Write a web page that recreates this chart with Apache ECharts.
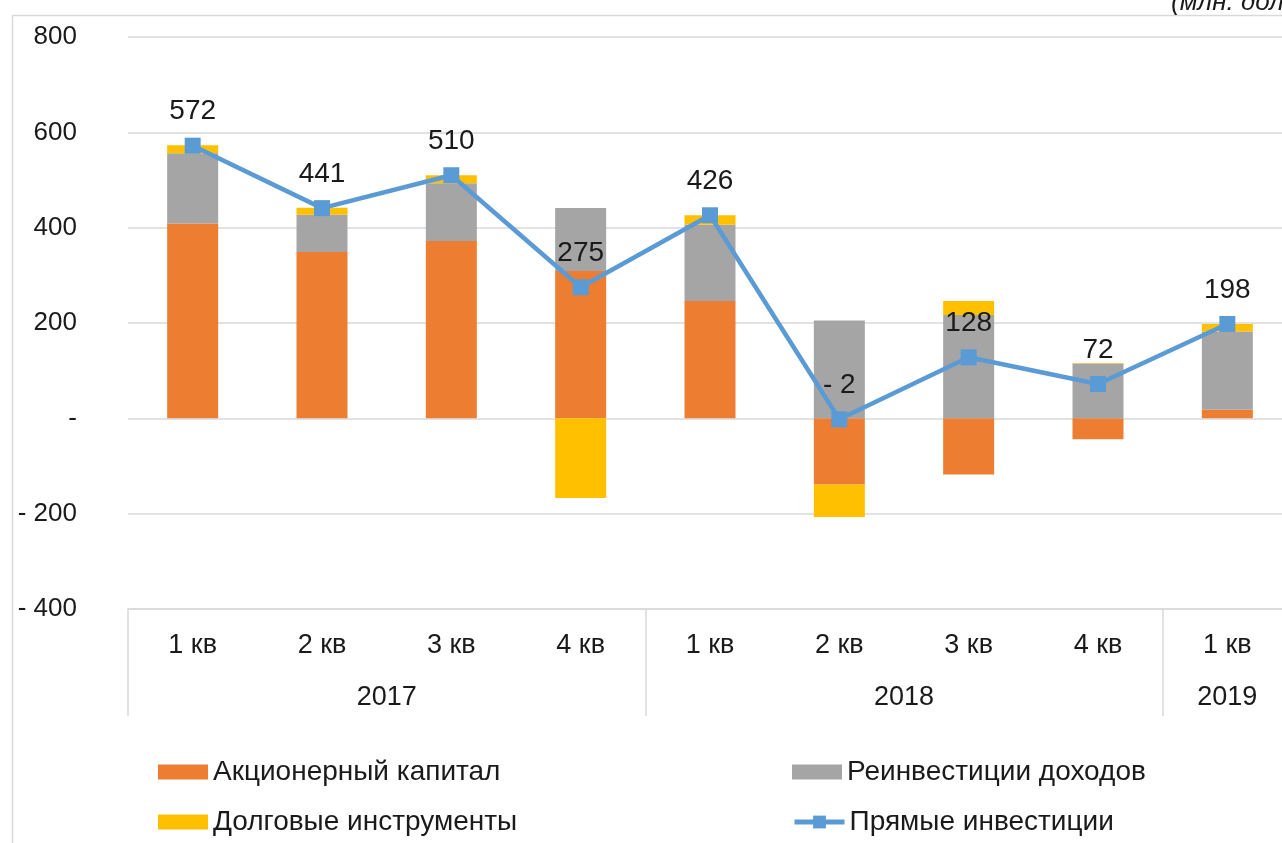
<!DOCTYPE html>
<html>
<head>
<meta charset="utf-8">
<script src="https://cdn.jsdelivr.net/npm/echarts@6/dist/echarts.min.js"></script>
<style>
  html, body { margin: 0; padding: 0; background: #fff; }
  #chart { width: 1282px; height: 843px; }
</style>
</head>
<body>
<div id="chart"></div>
<script>
// ---- data ----
var quarters = ['1 кв', '2 кв', '3 кв', '4 кв', '1 кв', '2 кв', '3 кв', '4 кв', '1 кв'];
var years = ['2017', '2018', '2019'];
var yearSpans = [4, 4, 1];
var equity = [409, 349, 372, 309, 246, -139, -118, -44, 18];      // Акционерный капитал
var reinvest = [147, 78, 121, 132, 160, 205, 217, 115, 164];      // Реинвестиции доходов
var debt = [17, 15, 17, -167, 20, -68, 29, 1, 16];                // Долговые инструменты
var direct = [572, 441, 510, 275, 426, -2, 128, 72, 198];         // Прямые инвестиции
var seriesNames = ['Акционерный капитал', 'Реинвестиции доходов', 'Долговые инструменты', 'Прямые инвестиции'];
var unitText = '(млн. долл. США)';

// ---- helpers ----
function acct(v) {
  if (v === 0) return '-';
  if (v < 0) return '- ' + Math.abs(v);
  return String(v);
}
var yearCenters = {};
(function () {
  var start = 0;
  for (var i = 0; i < years.length; i++) {
    yearCenters[String(start + yearSpans[i] / 2)] = years[i];
    start += yearSpans[i];
  }
})();
var total = yearSpans.reduce(function (a, b) { return a + b; }, 0);

var FONT = '"Liberation Sans", Arial, sans-serif';
var TXT = '#1a1a1a';
var GRID = '#d9d9d9';

function legendAt(name, left, top, isLine) {
  var l = {
    data: [isLine ? name : { name: name, icon: 'rect' }],
    left: left, top: top, orient: 'horizontal', padding: 0,
    itemWidth: 50, itemHeight: 15, itemGap: 0,
    textStyle: { fontFamily: FONT, fontSize: 28, color: TXT },
    selectedMode: false
  };
  if (isLine) { l.lineStyle = { width: 5 }; l.itemHeight = 16; }
  return l;
}

var chart = echarts.init(document.getElementById('chart'), null, { renderer: 'canvas' });
chart.setOption({
  animation: false,
  backgroundColor: '#fff',
  title: {
    text: unitText, left: 1166, top: -15,
    textStyle: { fontFamily: FONT, fontSize: 26, fontStyle: 'italic', fontWeight: 'normal', color: TXT }
  },
  graphic: [{
    type: 'rect', left: 10, top: 13, silent: true, z: -1,
    shape: { width: 1400, height: 1000 },
    style: { fill: 'none', stroke: GRID, lineWidth: 1.5 }
  }],
  grid: { left: 128, top: 37, width: 1164, height: 572, containLabel: false, outerBoundsMode: 'none' },
  legend: [
    legendAt(seriesNames[0], 158, 758),
    legendAt(seriesNames[1], 792, 758),
    legendAt(seriesNames[2], 158, 808),
    legendAt(seriesNames[3], 792, 808, true)
  ],
  xAxis: [{
    type: 'category', data: quarters, position: 'bottom',
    axisLine: { onZero: false, lineStyle: { color: GRID, width: 1.5 } },
    axisTick: {
      show: true, length: 107, interval: function (i) { return i % 4 === 0; },
      lineStyle: { color: GRID, width: 1.5 }
    },
    axisLabel: { interval: 0, margin: 23, fontFamily: FONT, fontSize: 27, color: TXT }
  }, {
    type: 'value', position: 'bottom', min: 0, max: total, interval: 0.5,
    axisLine: { show: false }, axisTick: { show: false }, splitLine: { show: false },
    axisLabel: {
      margin: 75, fontFamily: FONT, fontSize: 27, color: TXT,
      formatter: function (v) { return yearCenters[String(v)] || ''; }
    }
  }],
  yAxis: {
    type: 'value', min: -400, max: 800, interval: 200,
    axisLine: { show: false }, axisTick: { show: false },
    splitLine: { lineStyle: { color: GRID, width: 1.5 } },
    axisLabel: { margin: 51, fontFamily: FONT, fontSize: 26, color: TXT, formatter: acct }
  },
  series: [{
    name: seriesNames[0], type: 'bar', stack: 's', barWidth: 51, data: equity,
    itemStyle: { color: '#ED7D31' }
  }, {
    name: seriesNames[1], type: 'bar', stack: 's', barWidth: 51, data: reinvest,
    itemStyle: { color: '#A5A5A5' }
  }, {
    name: seriesNames[2], type: 'bar', stack: 's', barWidth: 51, data: debt,
    itemStyle: { color: '#FFC000' }
  }, {
    name: seriesNames[3], type: 'line', data: direct, z: 5,
    symbol: 'rect', symbolSize: 16,
    lineStyle: { color: '#5B9BD5', width: 4.5 },
    itemStyle: { color: '#5B9BD5' },
    label: {
      show: true, position: 'top', distance: 12,
      fontFamily: FONT, fontSize: 28, color: TXT, formatter: function (p) { return acct(p.value); }
    }
  }]
});
</script>
</body>
</html>
